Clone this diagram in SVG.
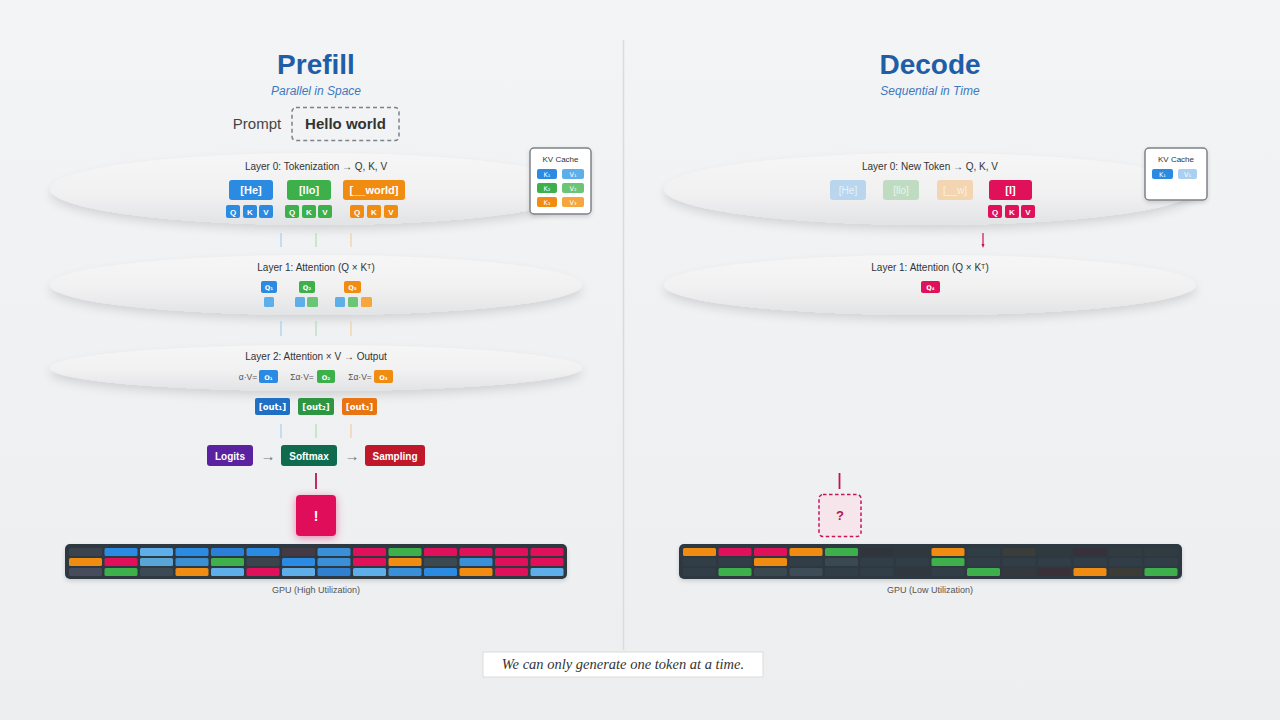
<svg xmlns="http://www.w3.org/2000/svg" width="1280" height="720" viewBox="0 0 1280 720">
<defs>
<linearGradient id="bg" x1="0" y1="0" x2="0" y2="1">
<stop offset="0" stop-color="#f3f4f5"/><stop offset="1" stop-color="#eceef0"/>
</linearGradient>
<linearGradient id="band" x1="0" y1="0" x2="0" y2="1">
<stop offset="0" stop-color="#f6f6f7"/><stop offset="0.55" stop-color="#f1f1f2"/><stop offset="1" stop-color="#e2e3e5"/>
</linearGradient>
<filter id="sh" x="-10%" y="-40%" width="120%" height="190%">
<feDropShadow dx="0" dy="5" stdDeviation="5" flood-color="#000" flood-opacity="0.12"/>
</filter>
<filter id="glow" x="-50%" y="-50%" width="200%" height="200%">
<feDropShadow dx="0" dy="2" stdDeviation="4" flood-color="#e0105a" flood-opacity="0.45"/>
</filter>
<filter id="card" x="-20%" y="-20%" width="140%" height="150%">
<feDropShadow dx="0" dy="2" stdDeviation="2" flood-color="#000" flood-opacity="0.15"/>
</filter>
<style>
text{font-family:"Liberation Sans","DejaVu Sans",sans-serif;}
.title{font-size:28px;font-weight:bold;fill:#1f5ea6;text-anchor:middle;}
.sub{font-size:12px;font-style:italic;fill:#3b7ac0;text-anchor:middle;}
.lay{font-size:10px;fill:#333;text-anchor:middle;}
.tok{font-size:11px;font-weight:bold;fill:#fff;text-anchor:middle;}
.sm{font-size:8px;font-weight:bold;fill:#fff;text-anchor:middle;}
.xs{font-family:"DejaVu Sans",sans-serif;font-size:6.5px;fill:#fff;text-anchor:middle;}
.lbl{font-size:8.5px;fill:#555;text-anchor:middle;}
.gpu{font-size:9px;fill:#555;text-anchor:middle;}
.blue{fill:#2b8ae2;} .green{fill:#3daf4b;} .orange{fill:#f08c12;}
.lblue{fill:#5eaeea;} .lgreen{fill:#6cc476;} .lorange{fill:#f5a63e;}
.crim{fill:#e0105a;}
</style>
</defs>
<rect width="1280" height="720" fill="url(#bg)"/>
<line x1="623.5" y1="40" x2="623.5" y2="650" stroke="#d9dbdd" stroke-width="1.5"/>

<!-- Prefill header -->
<g id="prefill-header">
<text class="title" x="316" y="74">Prefill</text>
<text class="sub" x="316" y="95">Parallel in Space</text>
<text x="257" y="129" font-size="15" fill="#444" text-anchor="middle">Prompt</text>
<rect x="292" y="107.5" width="107" height="33" rx="4" fill="#f2f3f4" stroke="#7d8389" stroke-width="1.5" stroke-dasharray="4 3"/>
<text x="345.5" y="129" font-size="15" font-weight="bold" fill="#333" text-anchor="middle">Hello world</text>
</g>

<!-- Layer bands -->
<g id="bands">
<ellipse cx="316" cy="189" rx="266" ry="36" fill="url(#band)" filter="url(#sh)"/>
<ellipse cx="316" cy="285" rx="266" ry="30" fill="url(#band)" filter="url(#sh)"/>
<ellipse cx="316" cy="368" rx="266" ry="23" fill="url(#band)" filter="url(#sh)"/>
<ellipse cx="930" cy="189" rx="266" ry="36" fill="url(#band)" filter="url(#sh)"/>
<ellipse cx="930" cy="285" rx="266" ry="30" fill="url(#band)" filter="url(#sh)"/>
</g>

<!-- connectors -->
<g id="connectors" stroke-width="1.2">
<line x1="281" y1="233" x2="281" y2="247" stroke="#a8cdee"/>
<line x1="316" y1="233" x2="316" y2="247" stroke="#b2dcb7"/>
<line x1="351" y1="233" x2="351" y2="247" stroke="#f5cd9d"/>
<line x1="281" y1="321" x2="281" y2="336" stroke="#a8cdee"/>
<line x1="316" y1="321" x2="316" y2="336" stroke="#b2dcb7"/>
<line x1="351" y1="321" x2="351" y2="336" stroke="#f5cd9d"/>
<line x1="281" y1="424" x2="281" y2="438" stroke="#a8cdee"/>
<line x1="316" y1="424" x2="316" y2="438" stroke="#b2dcb7"/>
<line x1="351" y1="424" x2="351" y2="438" stroke="#f5cd9d"/>
<text x="268" y="460.5" font-size="15" fill="#777" text-anchor="middle" stroke="none">→</text>
<text x="352" y="460.5" font-size="15" fill="#777" text-anchor="middle" stroke="none">→</text>
<line x1="316" y1="473" x2="316" y2="489" stroke="#c0144e" stroke-width="1.8"/>
<line x1="983" y1="233" x2="983" y2="246" stroke="#d0104f" stroke-width="1.2"/>
<path d="M981.5,244 L984.5,244 L983,248 Z" fill="#d0104f" stroke="none"/>
<line x1="839.5" y1="473" x2="839.5" y2="489" stroke="#c0144e" stroke-width="1.8"/>
</g>

<!-- Layer 0 prefill -->
<g id="layer0-prefill">
<text class="lay" x="316" y="170">Layer 0: Tokenization → Q, K, V</text>
<rect x="229" y="180" width="44" height="20" rx="3" class="blue"/>
<text class="tok" x="251" y="194">[He]</text>
<rect x="287" y="180" width="44" height="20" rx="3" class="green"/>
<text class="tok" x="309" y="194">[llo]</text>
<rect x="343" y="180" width="62" height="20" rx="3" class="orange"/>
<text class="tok" x="374" y="194">[__world]</text>
<rect x="226" y="205" width="14" height="13" rx="2" class="blue"/><text class="sm" x="233" y="214.5">Q</text>
<rect x="243" y="205" width="14" height="13" rx="2" class="blue"/><text class="sm" x="250" y="214.5">K</text>
<rect x="259" y="205" width="14" height="13" rx="2" class="blue"/><text class="sm" x="266" y="214.5">V</text>
<rect x="285" y="205" width="14" height="13" rx="2" class="green"/><text class="sm" x="292" y="214.5">Q</text>
<rect x="302" y="205" width="14" height="13" rx="2" class="green"/><text class="sm" x="309" y="214.5">K</text>
<rect x="318" y="205" width="14" height="13" rx="2" class="green"/><text class="sm" x="325" y="214.5">V</text>
<rect x="350" y="205" width="14" height="13" rx="2" class="orange"/><text class="sm" x="357" y="214.5">Q</text>
<rect x="367" y="205" width="14" height="13" rx="2" class="orange"/><text class="sm" x="374" y="214.5">K</text>
<rect x="384" y="205" width="14" height="13" rx="2" class="orange"/><text class="sm" x="391" y="214.5">V</text>
</g>

<!-- KV cache prefill -->
<g id="kv-cache-prefill">
<rect x="530" y="148" width="61" height="66" rx="4" fill="#fff" stroke="#7d8389" stroke-width="1.5" filter="url(#card)"/>
<text x="560.5" y="162" font-size="8" fill="#333" text-anchor="middle">KV Cache</text>
<rect x="537" y="169" width="20" height="10" rx="2" class="blue"/><text class="xs" x="547" y="176.5">K₁</text>
<rect x="562" y="169" width="22" height="10" rx="2" class="lblue"/><text class="xs" x="573" y="176.5">V₁</text>
<rect x="537" y="183" width="20" height="10" rx="2" class="green"/><text class="xs" x="547" y="190.5">K₂</text>
<rect x="562" y="183" width="22" height="10" rx="2" class="lgreen"/><text class="xs" x="573" y="190.5">V₂</text>
<rect x="537" y="197" width="20" height="10" rx="2" class="orange"/><text class="xs" x="547" y="204.5">K₃</text>
<rect x="562" y="197" width="22" height="10" rx="2" class="lorange"/><text class="xs" x="573" y="204.5">V₃</text>
</g>

<!-- Layer 1 prefill -->
<g id="layer1-prefill">
<text class="lay" x="316" y="271">Layer 1: Attention (Q × Kᵀ)</text>
<rect x="261" y="281" width="16" height="12" rx="2" class="blue"/><text class="xs" x="269" y="289.5" font-weight="bold">Q₁</text>
<rect x="299" y="281" width="16" height="12" rx="2" class="green"/><text class="xs" x="307" y="289.5" font-weight="bold">Q₂</text>
<rect x="344" y="281" width="17" height="12" rx="2" class="orange"/><text class="xs" x="352.5" y="289.5" font-weight="bold">Q₃</text>
<rect x="264" y="297" width="10" height="10" rx="1.5" class="lblue"/>
<rect x="295" y="297" width="10" height="10" rx="1.5" class="lblue"/>
<rect x="307" y="297" width="11" height="10" rx="1.5" class="lgreen"/>
<rect x="335" y="297" width="10" height="10" rx="1.5" class="lblue"/>
<rect x="348" y="297" width="10" height="10" rx="1.5" class="lgreen"/>
<rect x="361" y="297" width="11" height="10" rx="1.5" class="lorange"/>
</g>

<!-- Layer 2 prefill -->
<g id="layer2-prefill">
<text class="lay" x="316" y="360">Layer 2: Attention × V → Output</text>
<text class="lbl" x="248" y="380">α·V=</text>
<rect x="259" y="370" width="19" height="13" rx="2" class="blue"/><text class="xs" x="268.5" y="379.5" font-weight="bold">O₁</text>
<text class="lbl" x="302" y="380">Σα·V=</text>
<rect x="317" y="370" width="18" height="13" rx="2" class="green"/><text class="xs" x="326" y="379.5" font-weight="bold">O₂</text>
<text class="lbl" x="360" y="380">Σα·V=</text>
<rect x="374" y="370" width="19" height="13" rx="2" class="orange"/><text class="xs" x="383.5" y="379.5" font-weight="bold">O₃</text>
</g>

<!-- outputs -->
<g id="outputs">
<rect x="255" y="398" width="35" height="17" rx="2" fill="#1f6fc4"/><text x="272.5" y="410" font-size="8.5" font-weight="bold" fill="#fff" text-anchor="middle" style="font-family:'DejaVu Sans',sans-serif">[out₁]</text>
<rect x="298" y="398" width="36" height="17" rx="2" fill="#2e9642"/><text x="316" y="410" font-size="8.5" font-weight="bold" fill="#fff" text-anchor="middle" style="font-family:'DejaVu Sans',sans-serif">[out₂]</text>
<rect x="342" y="398" width="35" height="17" rx="2" fill="#e87412"/><text x="359.5" y="410" font-size="8.5" font-weight="bold" fill="#fff" text-anchor="middle" style="font-family:'DejaVu Sans',sans-serif">[out₃]</text>
</g>

<!-- pipeline -->
<g id="logits">
<rect x="207" y="445" width="46" height="21" rx="3" fill="#5a22a0"/>
<text x="230" y="459.5" font-size="10" font-weight="bold" fill="#fff" text-anchor="middle">Logits</text>
</g>
<g id="softmax">
<rect x="281" y="445" width="56" height="21" rx="3" fill="#0f6b4e"/>
<text x="309" y="459.5" font-size="10" font-weight="bold" fill="#fff" text-anchor="middle">Softmax</text>
</g>
<g id="sampling">
<rect x="365" y="445" width="60" height="21" rx="3" fill="#c0172b"/>
<text x="395" y="459.5" font-size="10" font-weight="bold" fill="#fff" text-anchor="middle">Sampling</text>
</g>
<g id="token-out-prefill">
<rect x="296" y="495" width="40" height="41" rx="4" fill="#e0105a" filter="url(#glow)"/>
<text x="316" y="521" font-size="14" font-weight="bold" fill="#fff" text-anchor="middle">!</text>
</g>

<!-- GPU high -->
<g id="gpu-high">
<rect x="65" y="544" width="502" height="35" rx="5" fill="#2d3840" filter="url(#card)"/>
<g>
<rect x="69" y="548" width="33" height="8" rx="1.5" fill="#3b444d"/><rect x="69" y="558" width="33" height="8" rx="1.5" fill="#f08c12"/><rect x="69" y="568" width="33" height="8" rx="1.5" fill="#464c5c"/>
<rect x="104.5" y="548" width="33" height="8" rx="1.5" fill="#2b8ae2"/><rect x="104.5" y="558" width="33" height="8" rx="1.5" fill="#e0105a"/><rect x="104.5" y="568" width="33" height="8" rx="1.5" fill="#3daf4b"/>
<rect x="140" y="548" width="33" height="8" rx="1.5" fill="#5eaeea"/><rect x="140" y="558" width="33" height="8" rx="1.5" fill="#58a6d8"/><rect x="140" y="568" width="33" height="8" rx="1.5" fill="#3c4a55"/>
<rect x="175.5" y="548" width="33" height="8" rx="1.5" fill="#2b8ae2"/><rect x="175.5" y="558" width="33" height="8" rx="1.5" fill="#3a8fd2"/><rect x="175.5" y="568" width="33" height="8" rx="1.5" fill="#f08c12"/>
<rect x="211" y="548" width="33" height="8" rx="1.5" fill="#2a80d8"/><rect x="211" y="558" width="33" height="8" rx="1.5" fill="#3daf4b"/><rect x="211" y="568" width="33" height="8" rx="1.5" fill="#5eaeea"/>
<rect x="246.5" y="548" width="33" height="8" rx="1.5" fill="#2b8ae2"/><rect x="246.5" y="558" width="33" height="8" rx="1.5" fill="#3b444d"/><rect x="246.5" y="568" width="33" height="8" rx="1.5" fill="#e0105a"/>
<rect x="282" y="548" width="33" height="8" rx="1.5" fill="#443a46"/><rect x="282" y="558" width="33" height="8" rx="1.5" fill="#2b8ae2"/><rect x="282" y="568" width="33" height="8" rx="1.5" fill="#5eaeea"/>
<rect x="317.5" y="548" width="33" height="8" rx="1.5" fill="#3a90d8"/><rect x="317.5" y="558" width="33" height="8" rx="1.5" fill="#3a90d8"/><rect x="317.5" y="568" width="33" height="8" rx="1.5" fill="#2f80d0"/>
<rect x="353" y="548" width="33" height="8" rx="1.5" fill="#e0105a"/><rect x="353" y="558" width="33" height="8" rx="1.5" fill="#e0105a"/><rect x="353" y="568" width="33" height="8" rx="1.5" fill="#5eaeea"/>
<rect x="388.5" y="548" width="33" height="8" rx="1.5" fill="#3daf4b"/><rect x="388.5" y="558" width="33" height="8" rx="1.5" fill="#f08c12"/><rect x="388.5" y="568" width="33" height="8" rx="1.5" fill="#3a90d8"/>
<rect x="424" y="548" width="33" height="8" rx="1.5" fill="#e0105a"/><rect x="424" y="558" width="33" height="8" rx="1.5" fill="#3b4a50"/><rect x="424" y="568" width="33" height="8" rx="1.5" fill="#2b8ae2"/>
<rect x="459.5" y="548" width="33" height="8" rx="1.5" fill="#e0105a"/><rect x="459.5" y="558" width="33" height="8" rx="1.5" fill="#3a90d8"/><rect x="459.5" y="568" width="33" height="8" rx="1.5" fill="#f08c12"/>
<rect x="495" y="548" width="33" height="8" rx="1.5" fill="#e0105a"/><rect x="495" y="558" width="33" height="8" rx="1.5" fill="#e0105a"/><rect x="495" y="568" width="33" height="8" rx="1.5" fill="#e0105a"/>
<rect x="530.5" y="548" width="33" height="8" rx="1.5" fill="#e0105a"/><rect x="530.5" y="558" width="33" height="8" rx="1.5" fill="#e0105a"/><rect x="530.5" y="568" width="33" height="8" rx="1.5" fill="#5eaeea"/>
</g>
<text class="gpu" x="316" y="593">GPU (High Utilization)</text>
</g>

<!-- Decode header -->
<g id="decode-header">
<text class="title" x="930" y="74">Decode</text>
<text class="sub" x="930" y="95">Sequential in Time</text>
</g>

<!-- Layer 0 decode -->
<g id="layer0-decode">
<text class="lay" x="930" y="170">Layer 0: New Token → Q, K, V</text>
<rect x="830" y="180" width="36" height="20" rx="3" fill="#b9d6ee"/><text x="848" y="194" font-size="10" fill="#e8f2fb" text-anchor="middle">[He]</text>
<rect x="883" y="180" width="36" height="20" rx="3" fill="#bfdcc2"/><text x="901" y="194" font-size="10" fill="#eaf5ec" text-anchor="middle">[llo]</text>
<rect x="937" y="180" width="36" height="20" rx="3" fill="#f3d5b2"/><text x="955" y="194" font-size="10" fill="#fbefe2" text-anchor="middle">[__w]</text>
<rect x="989" y="180" width="43" height="20" rx="3" class="crim"/><text class="tok" x="1010.5" y="194">[I]</text>
<rect x="988" y="205" width="14" height="13" rx="2" class="crim"/><text class="sm" x="995" y="214.5">Q</text>
<rect x="1005" y="205" width="14" height="13" rx="2" class="crim"/><text class="sm" x="1012" y="214.5">K</text>
<rect x="1021" y="205" width="14" height="13" rx="2" class="crim"/><text class="sm" x="1028" y="214.5">V</text>
</g>

<!-- KV cache decode -->
<g id="kv-cache-decode">
<rect x="1145" y="148" width="62" height="52" rx="4" fill="#fff" stroke="#7d8389" stroke-width="1.5" filter="url(#card)"/>
<text x="1176" y="162" font-size="8" fill="#333" text-anchor="middle">KV Cache</text>
<rect x="1152" y="169" width="21" height="10" rx="2" class="blue"/><text class="xs" x="1162.5" y="176.5">K₁</text>
<rect x="1178" y="169" width="19" height="10" rx="2" fill="#a9d0f0"/><text class="xs" x="1187.5" y="176.5" fill="#e8f2fb">V₁</text>
</g>

<!-- Layer 1 decode -->
<g id="layer1-decode">
<text class="lay" x="930" y="271">Layer 1: Attention (Q × Kᵀ)</text>
<rect x="921" y="281" width="19" height="12" rx="2" class="crim"/><text class="xs" x="930.5" y="289.5" font-weight="bold">Q₄</text>
</g>

<!-- pending token -->
<g id="token-pending">
<rect x="819" y="494.5" width="42" height="42" rx="4" fill="#f6e6ec" stroke="#c8155a" stroke-width="1.5" stroke-dasharray="3.5 2.5"/>
<text x="840" y="520" font-size="13" font-weight="bold" fill="#b0154f" text-anchor="middle">?</text>
</g>

<!-- GPU low -->
<g id="gpu-low">
<rect x="679" y="544" width="503" height="35" rx="5" fill="#2d3840" filter="url(#card)"/>
<g fill="#323e47">
<rect x="683" y="548" width="33" height="8" rx="1.5" fill="#f08c12"/><rect x="683" y="558" width="33" height="8" rx="1.5"/><rect x="683" y="568" width="33" height="8" rx="1.5"/>
<rect x="718.5" y="548" width="33" height="8" rx="1.5" fill="#e0105a"/><rect x="718.5" y="558" width="33" height="8" rx="1.5"/><rect x="718.5" y="568" width="33" height="8" rx="1.5" fill="#3daf4b"/>
<rect x="754" y="548" width="33" height="8" rx="1.5" fill="#e0105a"/><rect x="754" y="558" width="33" height="8" rx="1.5" fill="#f08c12"/><rect x="754" y="568" width="33" height="8" rx="1.5" fill="#3a4850"/>
<rect x="789.5" y="548" width="33" height="8" rx="1.5" fill="#f08c12"/><rect x="789.5" y="558" width="33" height="8" rx="1.5"/><rect x="789.5" y="568" width="33" height="8" rx="1.5" fill="#3e4c58"/>
<rect x="825" y="548" width="33" height="8" rx="1.5" fill="#3daf4b"/><rect x="825" y="558" width="33" height="8" rx="1.5" fill="#3a4852"/><rect x="825" y="568" width="33" height="8" rx="1.5"/>
<rect x="860.5" y="548" width="33" height="8" rx="1.5" fill="#30343c"/><rect x="860.5" y="558" width="33" height="8" rx="1.5"/><rect x="860.5" y="568" width="33" height="8" rx="1.5"/>
<rect x="896" y="548" width="33" height="8" rx="1.5" fill="#2f383f"/><rect x="896" y="558" width="33" height="8" rx="1.5"/><rect x="896" y="568" width="33" height="8" rx="1.5" fill="#30373e"/>
<rect x="931.5" y="548" width="33" height="8" rx="1.5" fill="#f08c12"/><rect x="931.5" y="558" width="33" height="8" rx="1.5" fill="#3daf4b"/><rect x="931.5" y="568" width="33" height="8" rx="1.5"/>
<rect x="967" y="548" width="33" height="8" rx="1.5" fill="#2f3d44"/><rect x="967" y="558" width="33" height="8" rx="1.5"/><rect x="967" y="568" width="33" height="8" rx="1.5" fill="#3daf4b"/>
<rect x="1002.5" y="548" width="33" height="8" rx="1.5" fill="#3b3d3a"/><rect x="1002.5" y="558" width="33" height="8" rx="1.5"/><rect x="1002.5" y="568" width="33" height="8" rx="1.5" fill="#33393c"/>
<rect x="1038" y="548" width="33" height="8" rx="1.5" fill="#2f3a40"/><rect x="1038" y="558" width="33" height="8" rx="1.5"/><rect x="1038" y="568" width="33" height="8" rx="1.5" fill="#3a3038"/>
<rect x="1073.5" y="548" width="33" height="8" rx="1.5" fill="#38303a"/><rect x="1073.5" y="558" width="33" height="8" rx="1.5"/><rect x="1073.5" y="568" width="33" height="8" rx="1.5" fill="#f08c12"/>
<rect x="1109" y="548" width="33" height="8" rx="1.5" fill="#303c42"/><rect x="1109" y="558" width="33" height="8" rx="1.5"/><rect x="1109" y="568" width="33" height="8" rx="1.5" fill="#3c3b36"/>
<rect x="1144.5" y="548" width="33" height="8" rx="1.5" fill="#303c42"/><rect x="1144.5" y="558" width="33" height="8" rx="1.5"/><rect x="1144.5" y="568" width="33" height="8" rx="1.5" fill="#3daf4b"/>
</g>
<text class="gpu" x="930" y="593">GPU (Low Utilization)</text>
</g>

<!-- caption -->
<g id="caption">
<rect x="483" y="652" width="280" height="25" fill="#fff" stroke="#dcdcdc" stroke-width="1"/>
<text x="623" y="669" font-size="14.5" font-style="italic" fill="#333" text-anchor="middle" style="font-family:'Liberation Serif',serif">We can only generate one token at a time.</text>
</g>
</svg>
